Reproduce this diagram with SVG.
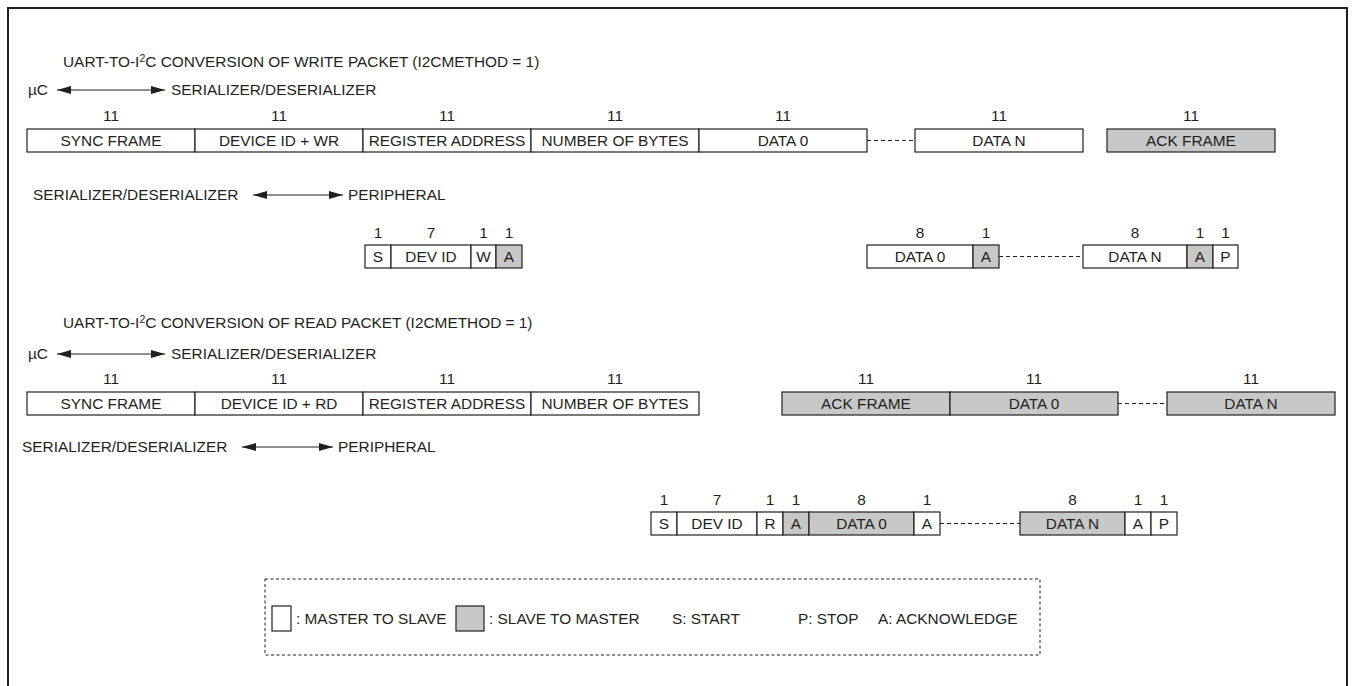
<svg xmlns="http://www.w3.org/2000/svg" width="1353" height="686" viewBox="0 0 1353 686">
<defs>
<style>
text{font-family:"Liberation Sans",Arial,sans-serif;font-size:15.4px;fill:#231f20}
.c{text-anchor:middle}
.w{fill:#fff;stroke:#231f20;stroke-width:1.2}
.g{fill:#c8c8c8;stroke:#231f20;stroke-width:1.2}
.ln{stroke:#231f20;stroke-width:1.2;fill:none}
.dash{stroke:#231f20;stroke-width:1;stroke-dasharray:4 3;fill:none}
</style>
<marker id="ah" viewBox="0 0 14 8" refX="14" refY="4" markerWidth="14" markerHeight="8" markerUnits="userSpaceOnUse" orient="auto-start-reverse">
<path d="M0,0 L14,4 L0,8 Z" fill="#231f20"/>
</marker>
</defs>
<rect width="1353" height="686" fill="#fff"/>
<path d="M8,686 V8 H1347 V686" fill="none" stroke="#231f20" stroke-width="2"/>

<g id="write-title">
<text x="63" y="67">UART-TO-I<tspan font-size="10.5" dy="-5">2</tspan><tspan dy="5">C CONVERSION OF WRITE PACKET (I2CMETHOD = 1)</tspan></text>
</g>
<g id="write-uart-label">
<text x="28" y="95">µC</text>
<text x="171" y="95">SERIALIZER/DESERIALIZER</text>
</g>
<g id="write-uart">
<text class="c" x="111" y="121">11</text>
<text class="c" x="279" y="121">11</text>
<text class="c" x="447" y="121">11</text>
<text class="c" x="615" y="121">11</text>
<text class="c" x="783" y="121">11</text>
<text class="c" x="999" y="121">11</text>
<text class="c" x="1191" y="121">11</text>
<rect class="w" x="27" y="129" width="168" height="23"/>
<rect class="w" x="195" y="129" width="168" height="23"/>
<rect class="w" x="363" y="129" width="168" height="23"/>
<rect class="w" x="531" y="129" width="168" height="23"/>
<rect class="w" x="699" y="129" width="168" height="23"/>
<rect class="w" x="915" y="129" width="168" height="23"/>
<rect class="g" x="1107" y="129" width="168" height="23"/>
<text class="c" x="111" y="146">SYNC FRAME</text>
<text class="c" x="279" y="146">DEVICE ID + WR</text>
<text class="c" x="447" y="146">REGISTER ADDRESS</text>
<text class="c" x="615" y="146">NUMBER OF BYTES</text>
<text class="c" x="783" y="146">DATA 0</text>
<text class="c" x="999" y="146">DATA N</text>
<text class="c" x="1191" y="146">ACK FRAME</text>
</g>
<g id="write-i2c-label">
<text x="33" y="200">SERIALIZER/DESERIALIZER</text>
<text x="348" y="200">PERIPHERAL</text>
</g>
<g id="write-i2c">
<text class="c" x="378" y="238">1</text>
<text class="c" x="431" y="238">7</text>
<text class="c" x="483.5" y="238">1</text>
<text class="c" x="509" y="238">1</text>
<rect class="w" x="365" y="245" width="26" height="23"/>
<rect class="w" x="391" y="245" width="80" height="23"/>
<rect class="w" x="471" y="245" width="25" height="23"/>
<rect class="g" x="496" y="245" width="26" height="23"/>
<text class="c" x="378" y="262">S</text>
<text class="c" x="431" y="262">DEV ID</text>
<text class="c" x="483.5" y="262">W</text>
<text class="c" x="509" y="262">A</text>
<text class="c" x="920" y="238">8</text>
<text class="c" x="986" y="238">1</text>
<text class="c" x="1135" y="238">8</text>
<text class="c" x="1200" y="238">1</text>
<text class="c" x="1225.5" y="238">1</text>
<rect class="w" x="867" y="245" width="106" height="23"/>
<rect class="g" x="973" y="245" width="26" height="23"/>
<rect class="w" x="1083" y="245" width="104" height="23"/>
<rect class="g" x="1187" y="245" width="26" height="23"/>
<rect class="w" x="1213" y="245" width="25" height="23"/>
<text class="c" x="920" y="262">DATA 0</text>
<text class="c" x="986" y="262">A</text>
<text class="c" x="1135" y="262">DATA N</text>
<text class="c" x="1200" y="262">A</text>
<text class="c" x="1225.5" y="262">P</text>
</g>

<g id="read-title">
<text x="63" y="328">UART-TO-I<tspan font-size="10.5" dy="-5">2</tspan><tspan dy="5">C CONVERSION OF READ PACKET (I2CMETHOD = 1)</tspan></text>
</g>
<g id="read-uart-label">
<text x="28" y="359">µC</text>
<text x="171" y="359">SERIALIZER/DESERIALIZER</text>
</g>
<g id="read-uart">
<text class="c" x="111" y="384">11</text>
<text class="c" x="279" y="384">11</text>
<text class="c" x="447" y="384">11</text>
<text class="c" x="615" y="384">11</text>
<text class="c" x="866" y="384">11</text>
<text class="c" x="1034" y="384">11</text>
<text class="c" x="1251" y="384">11</text>
<rect class="w" x="27" y="392" width="168" height="23"/>
<rect class="w" x="195" y="392" width="168" height="23"/>
<rect class="w" x="363" y="392" width="168" height="23"/>
<rect class="w" x="531" y="392" width="168" height="23"/>
<rect class="g" x="782" y="392" width="168" height="23"/>
<rect class="g" x="950" y="392" width="168" height="23"/>
<rect class="g" x="1167" y="392" width="168" height="23"/>
<text class="c" x="111" y="409">SYNC FRAME</text>
<text class="c" x="279" y="409">DEVICE ID + RD</text>
<text class="c" x="447" y="409">REGISTER ADDRESS</text>
<text class="c" x="615" y="409">NUMBER OF BYTES</text>
<text class="c" x="866" y="409">ACK FRAME</text>
<text class="c" x="1034" y="409">DATA 0</text>
<text class="c" x="1251" y="409">DATA N</text>
</g>
<g id="read-i2c-label">
<text x="22" y="452">SERIALIZER/DESERIALIZER</text>
<text x="338" y="452">PERIPHERAL</text>
</g>
<g id="read-i2c">
<text class="c" x="664" y="505">1</text>
<text class="c" x="717" y="505">7</text>
<text class="c" x="770" y="505">1</text>
<text class="c" x="796" y="505">1</text>
<text class="c" x="861.5" y="505">8</text>
<text class="c" x="927" y="505">1</text>
<text class="c" x="1072.5" y="505">8</text>
<text class="c" x="1138" y="505">1</text>
<text class="c" x="1164" y="505">1</text>
<rect class="w" x="651" y="512" width="26" height="23"/>
<rect class="w" x="677" y="512" width="80" height="23"/>
<rect class="w" x="757" y="512" width="26" height="23"/>
<rect class="g" x="783" y="512" width="26" height="23"/>
<rect class="g" x="809" y="512" width="105" height="23"/>
<rect class="w" x="914" y="512" width="26" height="23"/>
<rect class="g" x="1020" y="512" width="105" height="23"/>
<rect class="w" x="1125" y="512" width="26" height="23"/>
<rect class="w" x="1151" y="512" width="26" height="23"/>
<text class="c" x="664" y="529">S</text>
<text class="c" x="717" y="529">DEV ID</text>
<text class="c" x="770" y="529">R</text>
<text class="c" x="796" y="529">A</text>
<text class="c" x="861.5" y="529">DATA 0</text>
<text class="c" x="927" y="529">A</text>
<text class="c" x="1072.5" y="529">DATA N</text>
<text class="c" x="1138" y="529">A</text>
<text class="c" x="1164" y="529">P</text>
</g>

<g id="legend">
<rect x="265" y="579" width="775" height="76" fill="none" stroke="#231f20" stroke-width="1" stroke-dasharray="3 2.5"/>
<rect class="w" x="272" y="606" width="19" height="25"/>
<text x="296" y="624">: MASTER TO SLAVE</text>
<rect class="g" x="456" y="606" width="28" height="25"/>
<text x="489" y="624">: SLAVE TO MASTER</text>
<text x="672" y="624">S: START</text>
<text x="798" y="624">P: STOP</text>
<text x="878" y="624">A: ACKNOWLEDGE</text>
</g>

<g id="connectors">
<line class="ln" x1="57" y1="90" x2="165" y2="90" marker-start="url(#ah)" marker-end="url(#ah)"/>
<line class="ln" x1="253" y1="195" x2="343" y2="195" marker-start="url(#ah)" marker-end="url(#ah)"/>
<line class="ln" x1="57" y1="354" x2="165" y2="354" marker-start="url(#ah)" marker-end="url(#ah)"/>
<line class="ln" x1="242" y1="447" x2="333" y2="447" marker-start="url(#ah)" marker-end="url(#ah)"/>
<line class="dash" x1="867" y1="140.5" x2="915" y2="140.5"/>
<line class="dash" x1="999" y1="256.5" x2="1083" y2="256.5"/>
<line class="dash" x1="1118" y1="403.5" x2="1167" y2="403.5"/>
<line class="dash" x1="940" y1="523.5" x2="1020" y2="523.5"/>
</g>
</svg>
